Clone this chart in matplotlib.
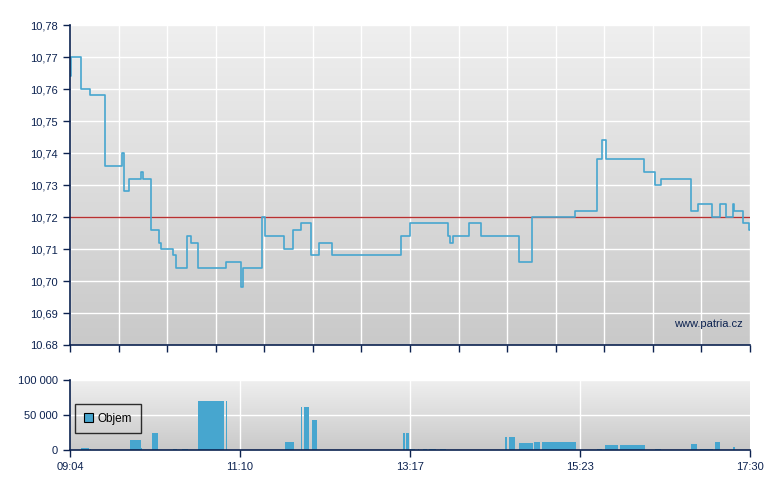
import numpy as np
import matplotlib.pyplot as plt
from matplotlib.patches import Patch

plt.rcParams['font.family'] = ['Liberation Sans', 'DejaVu Sans']

# price (step line)
price_time = ['09:04', '09:05', '09:12', '09:19', '09:30', '09:43', '09:44', '09:48',
              '09:57', '09:58', '10:04', '10:10', '10:12', '10:21', '10:23', '10:31',
              '10:34', '10:39', '11:00', '11:11', '11:13', '11:27', '11:29', '11:43',
              '11:50', '11:56', '12:03', '12:09', '12:19', '13:10', '13:17', '13:45',
              '13:47', '13:49', '14:01', '14:10', '14:38', '14:48', '15:20', '15:36',
              '15:40', '15:43', '16:11', '16:19', '16:24', '16:46', '16:51', '17:02',
              '17:08', '17:12', '17:17', '17:18', '17:25', '17:29', '17:30']
price = [10.764, 10.770, 10.760, 10.758, 10.736, 10.740, 10.728, 10.732,
         10.734, 10.732, 10.716, 10.712, 10.710, 10.708, 10.704, 10.714,
         10.712, 10.704, 10.706, 10.698, 10.704, 10.720, 10.714, 10.710,
         10.716, 10.718, 10.708, 10.712, 10.708, 10.714, 10.718, 10.714,
         10.712, 10.714, 10.718, 10.714, 10.706, 10.720, 10.722, 10.738,
         10.744, 10.738, 10.734, 10.730, 10.732, 10.722, 10.724, 10.720,
         10.724, 10.720, 10.724, 10.722, 10.718, 10.716, 10.716]
ref_price = 10.72

# volume
vol_start = ['09:12', '09:19', '09:49', '09:57', '10:05', '10:21', '10:27', '10:39',
             '11:00', '11:44', '11:56', '11:58', '12:04', '13:12', '13:14', '13:17',
             '13:22', '13:23', '13:25', '13:27', '13:31', '13:39', '14:28', '14:31',
             '14:38', '14:49', '14:55', '15:36', '15:42', '15:53', '16:19', '16:46',
             '16:53', '17:04', '17:17', '17:29']
vol_end = ['09:19', '09:20', '09:57', '09:58', '10:10', '10:24', '10:32', '10:59',
           '11:01', '11:51', '11:57', '12:02', '12:08', '13:14', '13:17', '13:21',
           '13:23', '13:24', '13:26', '13:30', '13:37', '13:44', '14:30', '14:36',
           '14:49', '14:54', '15:21', '15:40', '15:52', '16:12', '16:24', '16:51',
           '17:03', '17:08', '17:19', '17:30']
vol = [3000, 1000, 14300, 3000, 24800, 1500, 1500, 70000,
       70000, 11400, 61400, 61400, 42800, 24800, 24800, 1400,
       1400, 1400, 1400, 1400, 1400, 1400, 18600, 18600,
       10500, 11900, 11900, 1400, 7100, 7100, 1400, 9000,
       1400, 11900, 4800, 14800]

y_ticks = [10.68, 10.69, 10.70, 10.71, 10.72, 10.73, 10.74, 10.75, 10.76, 10.77, 10.78]
y_labels = ['10.68', '10,69', '10,70', '10,71', '10,72', '10,73', '10,74', '10,75',
            '10,76', '10,77', '10,78']
vol_ticks = [0, 50000, 100000]
vol_labels = ['0', '50 000', '100 000']
x_labels = ['09:04', '11:10', '13:17', '15:23', '17:30']


def to_min(s):
    h, m = s.split(':')
    return int(h) * 60 + float(m)


t_price = np.array([to_min(s) for s in price_time])
t0, t1 = to_min('09:04'), to_min('17:30')
vs = np.array([to_min(s) for s in vol_start])
ve = np.array([to_min(s) for s in vol_end])

navy = '#0c2250'
blue = '#47a6cf'

fig = plt.figure(figsize=(7.8, 4.9), dpi=100)
ax = fig.add_axes([70 / 780, 145 / 490, 680 / 780, 320 / 490])
axv = fig.add_axes([70 / 780, 40 / 490, 680 / 780, 70 / 490])


def gradient(a, top, bottom):
    c0 = np.array(plt.matplotlib.colors.to_rgb(top))
    c1 = np.array(plt.matplotlib.colors.to_rgb(bottom))
    g = np.linspace(0, 1, 256)[:, None, None]
    img = c0 * (1 - g) + c1 * g
    a.imshow(img, extent=[0, 1, 0, 1], transform=a.transAxes, aspect='auto',
             zorder=0, origin='upper')


for a in (ax, axv):
    gradient(a, '#efefef', '#c9c9c9')
    for s in ('top', 'right'):
        a.spines[s].set_visible(False)
    for s in ('left', 'bottom'):
        a.spines[s].set_color(navy)
        a.spines[s].set_linewidth(1.2)
        a.spines[s].set_zorder(5)
    a.tick_params(colors=navy, labelsize=8, length=5, width=1, direction='out')
    a.set_xlim(t0, t1)

# top panel
x_major = np.linspace(t0, t1, 15)
ax.set_xticks(x_major)
ax.set_xticklabels([])
ax.set_ylim(10.68, 10.78)
ax.set_yticks(y_ticks)
ax.set_yticklabels(y_labels)
for x in x_major:
    ax.axvline(x, color='white', lw=1, zorder=1)
for y in y_ticks:
    ax.axhline(y, color='white', lw=1, zorder=1)
ax.axhline(ref_price, color='#b83030', lw=1, zorder=2)
ax.plot(t_price, price, drawstyle='steps-post', color=blue, lw=1.2, zorder=3)
ax.text(0.99, 0.065, 'www.patria.cz', transform=ax.transAxes, ha='right',
        va='center', color=navy, fontsize=8, zorder=4)

# volume panel
x_lab = np.linspace(t0, t1, 5)
axv.set_xticks(x_lab)
axv.set_xticklabels(x_labels)
axv.set_ylim(0, 100000)
axv.set_yticks(vol_ticks)
axv.set_yticklabels(vol_labels)
for x in x_lab[1:-1]:
    axv.axvline(x, color='white', lw=1, zorder=1)
for y in vol_ticks[1:]:
    axv.axhline(y, color='white', lw=1, zorder=1)
axv.bar(vs, vol, width=ve - vs - 0.5, align='edge', color=blue, lw=0, zorder=3)
leg = axv.legend(handles=[Patch(facecolor=blue, edgecolor='black', lw=0.8, label='Objem')],
                 loc='center left', bbox_to_anchor=(0.007, 0.45), borderaxespad=0,
                 frameon=True, fancybox=False, fontsize=8.5, handlelength=0.8,
                 handleheight=0.8, handletextpad=0.4, borderpad=0.75)
leg.get_frame().set_edgecolor('black')
leg.get_frame().set_facecolor('none')
leg.get_frame().set_linewidth(1)

fig.savefig('out.png', dpi=100)
